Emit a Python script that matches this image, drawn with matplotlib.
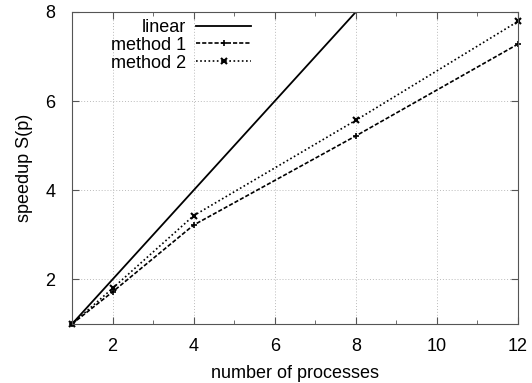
import matplotlib
matplotlib.use('Agg')
import matplotlib.pyplot as plt
from matplotlib.ticker import MultipleLocator

procs_linear = [1, 8]
speedup_linear = [1, 8]
procs = [1, 2, 4, 8, 12]
speedup_m1 = [1.0, 1.72, 3.22, 5.22, 7.28]
speedup_m2 = [1.0, 1.80, 3.43, 5.57, 7.79]

plt.rcParams['font.family'] = ['Liberation Sans', 'DejaVu Sans']

fig = plt.figure(figsize=(5.32, 3.83), dpi=100)
ax = fig.add_axes([0.1353, 0.154, 0.8384, 0.8147])

ax.plot(procs_linear, speedup_linear, color='black', lw=1.3, label='linear')
ax.plot(procs, speedup_m1, color='black', lw=1.2, ls=(0, (2.5, 1.2)),
        marker='+', ms=5, mew=1.2, label='method 1', clip_on=False)
ax.plot(procs, speedup_m2, color='black', lw=1.2, ls=(0, (1, 1.5)),
        marker='x', ms=4.5, mew=1.5, label='method 2', clip_on=False)

ax.set_xlim(1, 12)
ax.set_ylim(1, 8)
ax.xaxis.set_major_locator(MultipleLocator(2))
ax.xaxis.set_minor_locator(MultipleLocator(1))
ax.yaxis.set_major_locator(MultipleLocator(2))
ax.tick_params(which='both', direction='in', top=True, right=True,
               labelsize=13, color='#555555')
ax.tick_params(which='major', length=5)
ax.tick_params(axis='x', which='major', pad=10)
ax.tick_params(axis='y', which='major', pad=12)
ax.tick_params(which='minor', length=3)
ax.grid(True, which='major', color='#bbbbbb', ls=(0, (1, 2)), lw=0.7)
for s in ax.spines.values():
    s.set_color('#555555')

ax.set_xlabel('number of processes', fontsize=13, labelpad=7)
ax.set_ylabel('speedup S(p)', fontsize=13, labelpad=9)

ax.legend(loc='upper left', bbox_to_anchor=(0.05, 1.03), frameon=False,
          markerfirst=False, fontsize=13, handlelength=3.0,
          labelspacing=0.05, handletextpad=0.6, alignment='right')
for t in ax.get_legend().get_texts():
    t.set_ha('right')

fig.savefig('out.png', dpi=100)
